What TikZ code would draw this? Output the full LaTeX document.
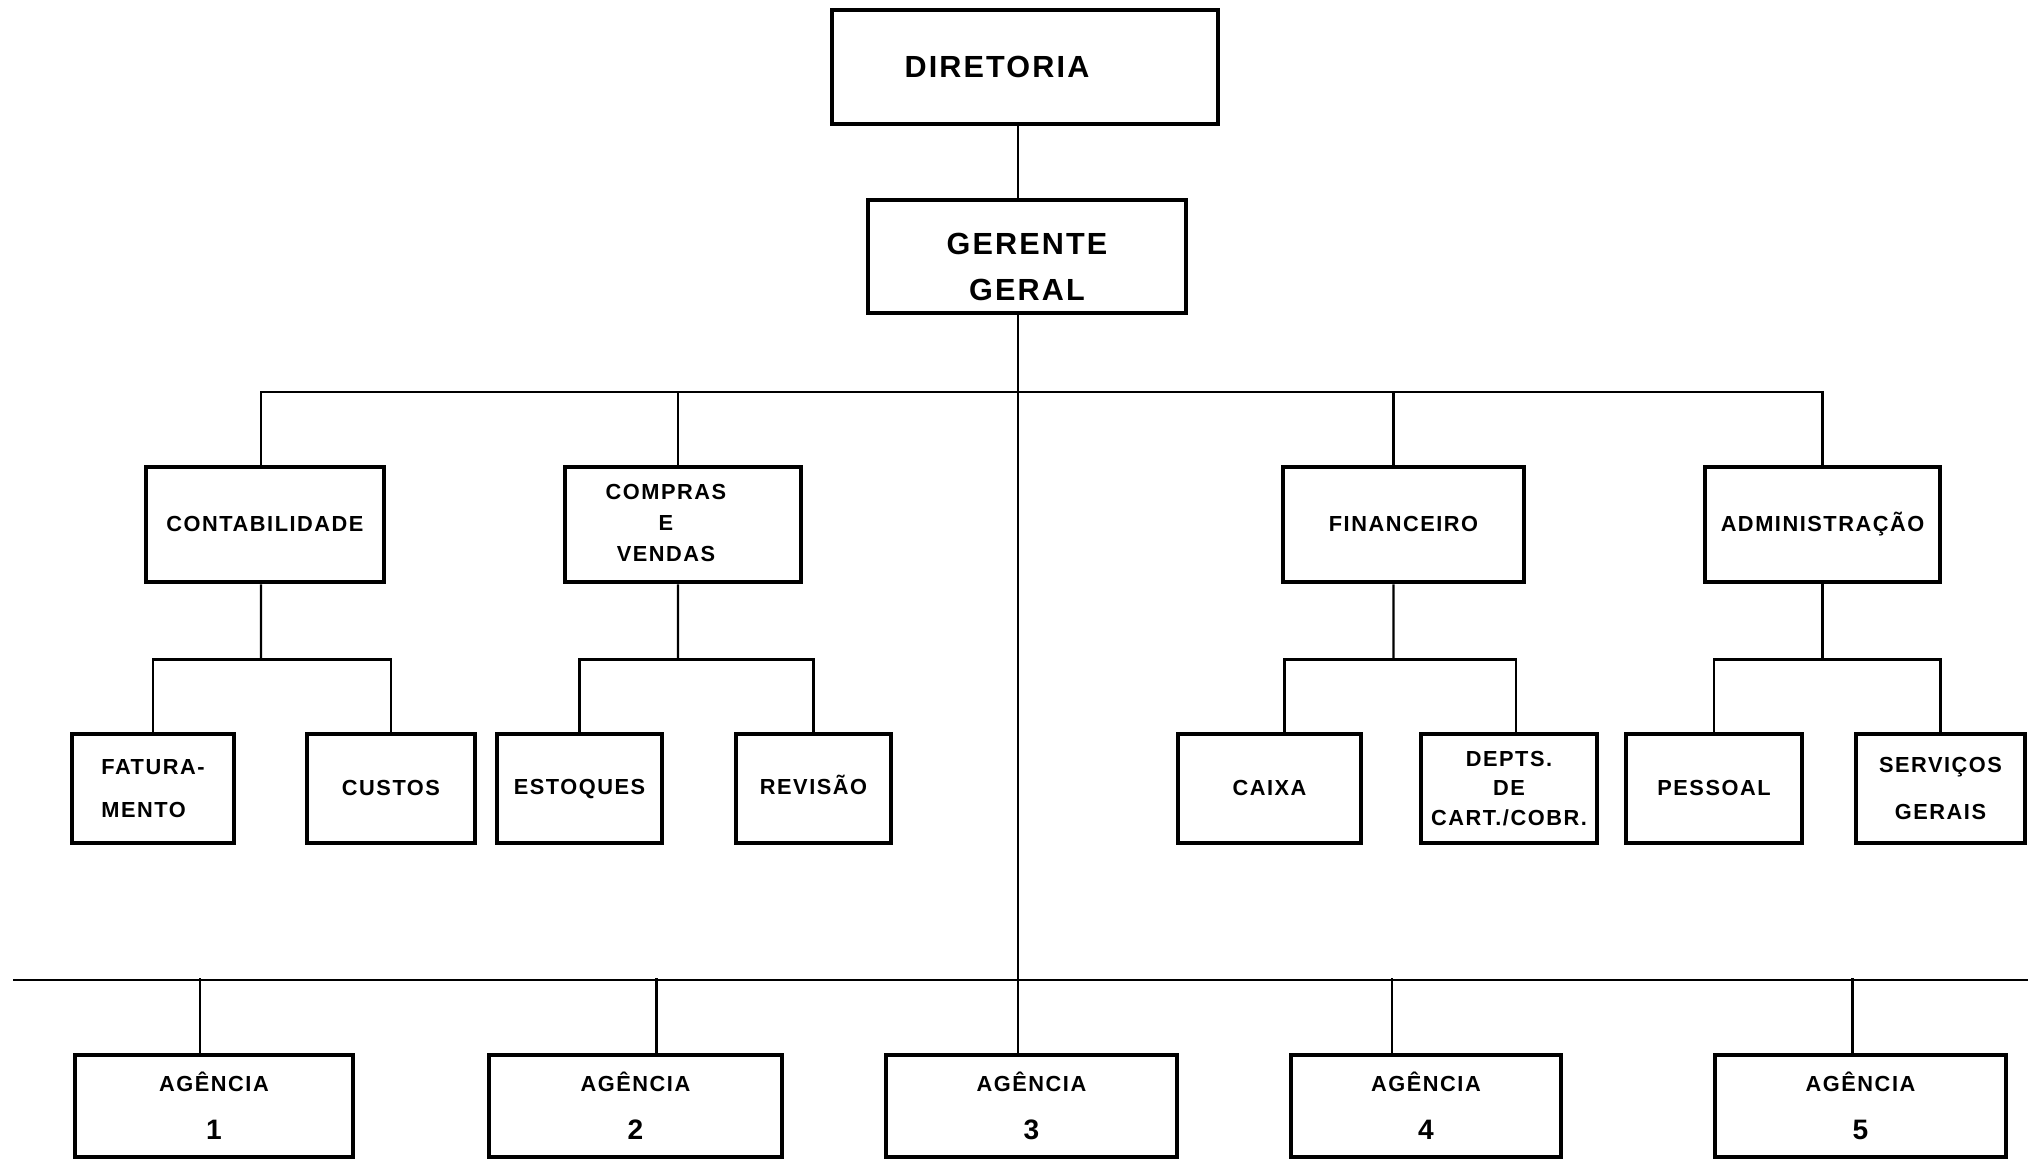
\documentclass[tikz,border=0pt]{standalone}
\usepackage{fontspec}
\setmainfont{Liberation Sans}
\newfontfamily\orgfont[LetterSpace=7]{Liberation Sans}
\newfontfamily\orgbold[LetterSpace=7]{Liberation Sans}
\usetikzlibrary{calc, positioning}
\tikzstyle{line} = [draw, line width=0.6pt]
\tikzstyle{box} = [draw, line width=1.4pt, inner sep=0pt, align=center]

\begin{document}
\begin{tikzpicture}
    [
        topbox/.style={box, font=\orgfont\bfseries\fontsize{8.7}{13}\selectfont},
        depbox/.style={box, minimum width=2.38cm, minimum height=1.15cm, font=\orgbold\bfseries\fontsize{6.2}{8.8}\selectfont},
        subbox/.style={box, minimum height=1.09cm, font=\orgbold\bfseries\fontsize{6.2}{8.4}\selectfont},
        agbox/.style={box, minimum height=1.02cm, font=\orgbold\bfseries\fontsize{6.2}{13.6}\selectfont}
    ]

    \begin{scope}
        %\draw[style=dotted] (0,-11.61) grid[xstep=1cm, ystep=1cm] (20.28,0);
        \useasboundingbox (0,0) rectangle (20.28,-11.61);

        \node[topbox, minimum width=3.86cm, minimum height=1.14cm] (dir) at (10.25,-0.67) {DIRETORIA\hspace*{5.6mm}};
        \node[topbox, minimum width=3.18cm, minimum height=1.13cm] (ger_geral) at (10.27,-2.565) {\rule{0pt}{0.42cm}GERENTE\\GERAL};

        \node[depbox] (contab) at (2.65,-5.245) {CONTABILIDADE};
        \node[depbox, minimum width=2.36cm, align=left] (compras) at (6.83,-5.245) {\begin{tabular}{@{}c@{}}COMPRAS\\E\\VENDAS\end{tabular}\hspace*{3.4mm}};
        \node[depbox, minimum width=2.41cm] (financ) at (14.035,-5.245) {FINANCEIRO};
        \node[depbox, minimum width=2.35cm] (admin) at (18.225,-5.245) {ADMINISTRAÇÃO};

        \node[subbox, minimum width=1.62cm, align=left] (fatur) at (1.53,-7.885) {FATURA-\\[3.7pt]MENTO};
        \node[subbox, minimum width=1.68cm] (custos) at (3.91,-7.885) {CUSTOS};
        \node[subbox, minimum width=1.65cm] (estoques) at (5.795,-7.885) {\strut ESTOQUES};
        \node[subbox, minimum width=1.55cm] (revisao) at (8.135,-7.885) {\strut REVISÃO};
        \node[subbox, minimum width=1.83cm] (caixa) at (12.695,-7.885) {CAIXA};
        \node[subbox, minimum width=1.76cm] (depts) at (15.09,-7.885) {DEPTS.\\DE\\CART./COBR.};
        \node[subbox, minimum width=1.76cm] (pessoal) at (17.14,-7.885) {PESSOAL};
        \node[subbox, minimum width=1.69cm] (servicos) at (19.405,-7.885) {SERVIÇOS\\[5pt]GERAIS};

        \node[agbox, minimum width=2.78cm] (ag_1) at (2.14,-11.06) {AGÊNCIA\\{\fontsize{8}{8}\selectfont 1}};
        \node[agbox, minimum width=2.93cm] (ag_2) at (6.355,-11.06) {AGÊNCIA\\{\fontsize{8}{8}\selectfont 2}};
        \node[agbox, minimum width=2.91cm] (ag_3) at (10.315,-11.06) {AGÊNCIA\\{\fontsize{8}{8}\selectfont 3}};
        \node[agbox, minimum width=2.70cm] (ag_4) at (14.26,-11.06) {AGÊNCIA\\{\fontsize{8}{8}\selectfont 4}};
        \node[agbox, minimum width=2.91cm] (ag_5) at (18.605,-11.06) {AGÊNCIA\\{\fontsize{8}{8}\selectfont 5}};

        \coordinate (spine) at (10.18,0);
        \coordinate (top_bus) at (10.18,-3.92);
        \coordinate (bot_bus_l) at (0.13,-9.80);
        \coordinate (bot_bus_r) at (20.28,-9.80);

        \path[line] (dir.south -| spine) -- (ger_geral.north -| spine);
        \path[line] (ger_geral.south -| spine) -- (ag_3.north -| spine);

        \path[line] ([xshift=-0.4mm]contab.north) |- (top_bus) -| (admin.north);
        \path[line] ([xshift=-0.5mm]compras.north) -- ([xshift=-0.5mm]compras.north |- top_bus);
        \path[line] ([xshift=-1mm]financ.north) -- ([xshift=-1mm]financ.north |- top_bus);

        \path[line] ([xshift=-0.4mm]contab.south) -- ($(contab.south)+(-0.04,-0.75)$) coordinate (contab_j);
        \path[line] (fatur.north) |- (contab_j) -| (custos.north);
        \path[line] ([xshift=-0.5mm]compras.south) -- ($(compras.south)+(-0.05,-0.75)$) coordinate (compras_j);
        \path[line] (estoques.north) |- (compras_j) -| (revisao.north);
        \path[line] ([xshift=-1mm]financ.south) -- ($(financ.south)+(-0.1,-0.75)$) coordinate (financ_j);
        \path[line] ([xshift=1.5mm]caixa.north) |- (financ_j) -| ([xshift=0.7mm]depts.north);
        \path[line] (admin.south) -- ($(admin.south)+(0,-0.75)$) coordinate (admin_j);
        \path[line] (pessoal.north) |- (admin_j) -| (servicos.north);

        \path[line] (bot_bus_l) -- (bot_bus_r);
        \path[line] ([xshift=-1.4mm]ag_1.north) -- ++(0,0.75);
        \path[line] ([xshift=2.1mm]ag_2.north) -- ++(0,0.75);
        \path[line] ([xshift=-3.4mm]ag_4.north) -- ++(0,0.75);
        \path[line] ([xshift=-0.8mm]ag_5.north) -- ++(0,0.75);
    \end{scope}

\end{tikzpicture}
\end{document}
